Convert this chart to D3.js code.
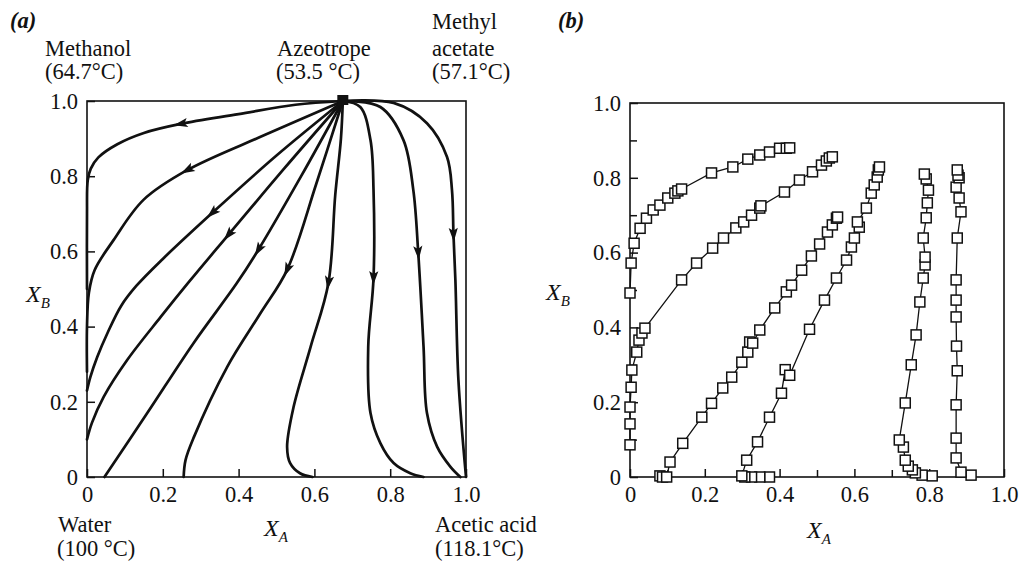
<!DOCTYPE html>
<html><head><meta charset="utf-8">
<script src="https://cdn.jsdelivr.net/npm/d3@7"></script>
<style>
body{margin:0;background:#fff;}
svg text{font-family:"Liberation Serif","Times New Roman",serif;fill:#111;}
</style></head>
<body><svg id="c" width="1023" height="562"></svg>
<script>
// ---------- DATA ----------
// Panel (a): residue curves, [X_A, X_B]
const curve1 = [[0.675,1],[0.55,0.99],[0.4,0.965],[0.247,0.939],[0.15,0.915],[0.08,0.885],[0.03,0.85],[0.01,0.82],[0.002,0.79],[0,0.7],[0,0.5]];
const curve2 = [[0.675,1],[0.47,0.91],[0.264,0.816],[0.149,0.737],[0.07,0.63],[0.02,0.55],[0.005,0.49],[0,0.4],[0,0.28]];
const curve3 = [[0.675,1],[0.5,0.855],[0.33,0.702],[0.2,0.58],[0.13,0.508],[0.09,0.455],[0.055,0.385],[0.027,0.319],[0.009,0.266],[0,0.23]];
const curve4 = [[0.675,1],[0.52,0.82],[0.373,0.644],[0.27,0.52],[0.194,0.425],[0.106,0.311],[0.044,0.213],[0.013,0.144],[0,0.1]];
const curve5 = [[0.675,1],[0.565,0.8],[0.452,0.604],[0.395,0.515],[0.281,0.356],[0.159,0.17],[0.046,0]];
const curve6 = [[0.675,1],[0.605,0.78],[0.528,0.551],[0.458,0.436],[0.37,0.293],[0.282,0.106],[0.26,0.045],[0.255,0]];
const curve7 = [[0.675,1],[0.67,0.9],[0.655,0.75],[0.637,0.516],[0.59,0.346],[0.545,0.186],[0.528,0.08],[0.536,0.037],[0.562,0.01],[0.595,0]];
const curve8 = [[0.675,1],[0.721,0.984],[0.748,0.896],[0.756,0.763],[0.756,0.529],[0.742,0.346],[0.748,0.17],[0.774,0.09],[0.809,0.037],[0.853,0.01],[0.888,0]];
const curve9 = [[0.675,1],[0.774,0.984],[0.835,0.896],[0.861,0.763],[0.874,0.596],[0.888,0.346],[0.897,0.17],[0.924,0.08],[0.959,0.027],[0.985,0]];
const curve10 = [[0.675,1],[0.809,0.995],[0.897,0.941],[0.95,0.851],[0.963,0.763],[0.967,0.644],[0.972,0.524],[0.98,0.258],[1,0]];
const residueCurves = [curve1,curve2,curve3,curve4,curve5,curve6,curve7,curve8,curve9,curve10];
const arrowIndex = [3,2,2,2,2,2,3,4,4,5];
const azeotrope = [0.675, 1.0];

// Panel (b): measured composition trajectories, [X_A, X_B]
const seriesA = [[0,0.492],[0.003,0.572],[0.011,0.625],[0.027,0.665],[0.044,0.692],[0.062,0.714],[0.08,0.727],[0.101,0.746],[0.12,0.759],[0.128,0.765],[0.138,0.77],[0.218,0.813],[0.275,0.829],[0.315,0.85],[0.347,0.861],[0.373,0.869],[0.4,0.879],[0.418,0.879],[0.427,0.88]];
const seriesB = [[0,0.086],[0,0.142],[0,0.187],[0.003,0.24],[0.005,0.286],[0.018,0.334],[0.024,0.366],[0.032,0.385],[0.04,0.398],[0.138,0.527],[0.178,0.572],[0.221,0.612],[0.25,0.639],[0.283,0.666],[0.304,0.682],[0.325,0.7],[0.347,0.719],[0.35,0.725],[0.413,0.762],[0.453,0.794],[0.488,0.816],[0.512,0.834],[0.525,0.845],[0.533,0.853],[0.541,0.856]];
const seriesC = [[0.08,0.003],[0.087,0],[0.098,0],[0.107,0.04],[0.141,0.09],[0.192,0.16],[0.218,0.197],[0.248,0.238],[0.272,0.267],[0.299,0.307],[0.315,0.334],[0.32,0.361],[0.328,0.358],[0.347,0.393],[0.387,0.452],[0.418,0.495],[0.432,0.513],[0.459,0.553],[0.485,0.591],[0.507,0.623],[0.528,0.655],[0.541,0.674],[0.552,0.692],[0.555,0.695]];
const seriesD = [[0.373,0],[0.347,0],[0.325,0],[0.307,0],[0.299,0.003],[0.312,0.045],[0.341,0.094],[0.373,0.16],[0.405,0.224],[0.415,0.287],[0.427,0.272],[0.48,0.395],[0.52,0.473],[0.552,0.532],[0.579,0.58],[0.592,0.615],[0.6,0.639],[0.613,0.668],[0.608,0.682],[0.632,0.719],[0.645,0.759],[0.653,0.781],[0.661,0.802],[0.664,0.821],[0.667,0.829]];
const seriesE = [[0.808,0.003],[0.781,0.005],[0.763,0.011],[0.755,0.019],[0.744,0.029],[0.736,0.045],[0.731,0.08],[0.72,0.099],[0.736,0.198],[0.752,0.3],[0.765,0.38],[0.775,0.468],[0.784,0.532],[0.789,0.567],[0.789,0.588],[0.784,0.639],[0.792,0.693],[0.795,0.733],[0.798,0.767],[0.792,0.797],[0.787,0.81]];
const seriesF = [[0.912,0.005],[0.885,0.013],[0.872,0.051],[0.872,0.104],[0.872,0.193],[0.875,0.284],[0.873,0.35],[0.872,0.428],[0.872,0.473],[0.872,0.527],[0.875,0.639],[0.885,0.709],[0.88,0.746],[0.872,0.775],[0.88,0.8],[0.877,0.807],[0.875,0.821]];
const trajectories = [seriesA,seriesB,seriesC,seriesD,seriesE,seriesF];

const majorTicks = [0,0.2,0.4,0.6,0.8,1.0];
const majorTickLabels = ["0","0.2","0.4","0.6","0.8","1.0"];
const minorTicks = [0.1,0.3,0.5,0.7,0.9];

// ---------- DRAW ----------
const svg = d3.select("#c");
const FS = 22.5;

function panel(x0,x1,y0,y1){
  return {x:d3.scaleLinear().domain([0,1]).range([x0,x1]),
          y:d3.scaleLinear().domain([0,1]).range([y0,y1])};
}
const A = panel(87,466,477,101);
const B = panel(630,1004,477,103);

function frame(p){
  svg.append("rect").attr("x",p.x(0)).attr("y",p.y(1))
    .attr("width",p.x(1)-p.x(0)).attr("height",p.y(0)-p.y(1))
    .attr("fill","none").attr("stroke","#111").attr("stroke-width",1.6);
}
function axes(p, withMinor){
  const fmt = d => majorTickLabels[majorTicks.indexOf(d)];
  const gx = svg.append("g").attr("transform",`translate(0,${p.y(0)})`)
    .call(d3.axisBottom(p.x).tickValues(majorTicks).tickFormat(fmt).tickSizeInner(-8).tickSizeOuter(0).tickPadding(9));
  const gy = svg.append("g").attr("transform",`translate(${p.x(0)},0)`)
    .call(d3.axisLeft(p.y).tickValues(majorTicks).tickFormat(fmt).tickSizeInner(-8).tickSizeOuter(0).tickPadding(9));
  [gx,gy].forEach(g=>{
    g.select(".domain").remove();
    g.selectAll("line").attr("stroke","#111").attr("stroke-width",1.5);
    g.selectAll("text").attr("font-size",FS).attr("font-family","Liberation Serif").attr("fill","#111");
  });
  gx.selectAll("text").attr("dy","0.71em");
  if(withMinor){
    const mx = svg.append("g").attr("transform",`translate(0,${p.y(0)})`)
      .call(d3.axisBottom(p.x).tickValues(minorTicks).tickFormat("").tickSizeInner(-7).tickSizeOuter(0));
    const my = svg.append("g").attr("transform",`translate(${p.x(0)},0)`)
      .call(d3.axisLeft(p.y).tickValues(minorTicks).tickFormat("").tickSizeInner(-7).tickSizeOuter(0));
    [mx,my].forEach(g=>{g.select(".domain").remove(); g.selectAll("line").attr("stroke","#111").attr("stroke-width",1.5);});
  }
}

// Panel (a)
frame(A); axes(A,false);
const lineA = d3.line().x(d=>A.x(d[0])).y(d=>A.y(d[1])).curve(d3.curveCatmullRom.alpha(0.5));
residueCurves.forEach((c,i)=>{
  svg.append("path").attr("d",lineA(c)).attr("fill","none").attr("stroke","#111")
    .attr("stroke-width",2.7).attr("stroke-linejoin","round").attr("stroke-linecap","round");
  const k = arrowIndex[i];
  const p = c[k], pr = c[k-1], nx = c[k+1];
  const dx = A.x(nx[0])-A.x(pr[0]), dy = A.y(nx[1])-A.y(pr[1]);
  const ang = Math.atan2(dy,dx)*180/Math.PI;
  svg.append("path").attr("d","M7,0 L-7,-4.6 L-4,0 L-7,4.6 Z")
    .attr("transform",`translate(${A.x(p[0])},${A.y(p[1])}) rotate(${ang})`)
    .attr("fill","#111");
});
svg.append("rect").attr("x",A.x(azeotrope[0])-5.5).attr("y",A.y(azeotrope[1])-6)
  .attr("width",11).attr("height",10).attr("fill","#111");

// Panel (b)
frame(B); axes(B,true);
const lineB = d3.line().x(d=>B.x(d[0])).y(d=>B.y(d[1]));
trajectories.forEach(s=>{
  svg.append("path").attr("d",lineB(s)).attr("fill","none").attr("stroke","#111").attr("stroke-width",1.3);
});
trajectories.forEach(s=>{
  svg.append("g").selectAll("rect").data(s).join("rect")
    .attr("x",d=>B.x(d[0])-5).attr("y",d=>B.y(d[1])-5).attr("width",10).attr("height",10)
    .attr("fill","#fff").attr("stroke","#111").attr("stroke-width",1.5);
});

// Text
function txt(x,y,s,opt={}){
  const t = svg.append("text").attr("x",x).attr("y",y).attr("font-size",opt.size||FS).text(s);
  if(opt.italic) t.attr("font-style","italic");
  if(opt.bold) t.attr("font-weight","bold");
  if(opt.anchor) t.attr("text-anchor",opt.anchor);
  return t;
}
function sym(x,y,main,sub){
  const t = svg.append("text").attr("x",x).attr("y",y).attr("font-size",24).attr("font-style","italic");
  t.append("tspan").text(main);
  t.append("tspan").attr("font-size",15).attr("dy",6).text(sub);
}
txt(10,28,"(a)",{italic:true,bold:true});
txt(558,28,"(b)",{italic:true,bold:true});
txt(45,56,"Methanol"); txt(45,79,"(64.7°C)");
txt(277,56,"Azeotrope"); txt(276,79,"(53.5 °C)");
txt(432,29,"Methyl"); txt(432,56,"acetate"); txt(432,79,"(57.1°C)");
txt(58,532,"Water"); txt(57,556,"(100 °C)");
txt(435,532,"Acetic acid"); txt(435,556,"(118.1°C)");
sym(264,536,"X","A");
sym(26,302,"X","B");
sym(807,538,"X","A");
sym(546,300,"X","B");
</script></body></html>
